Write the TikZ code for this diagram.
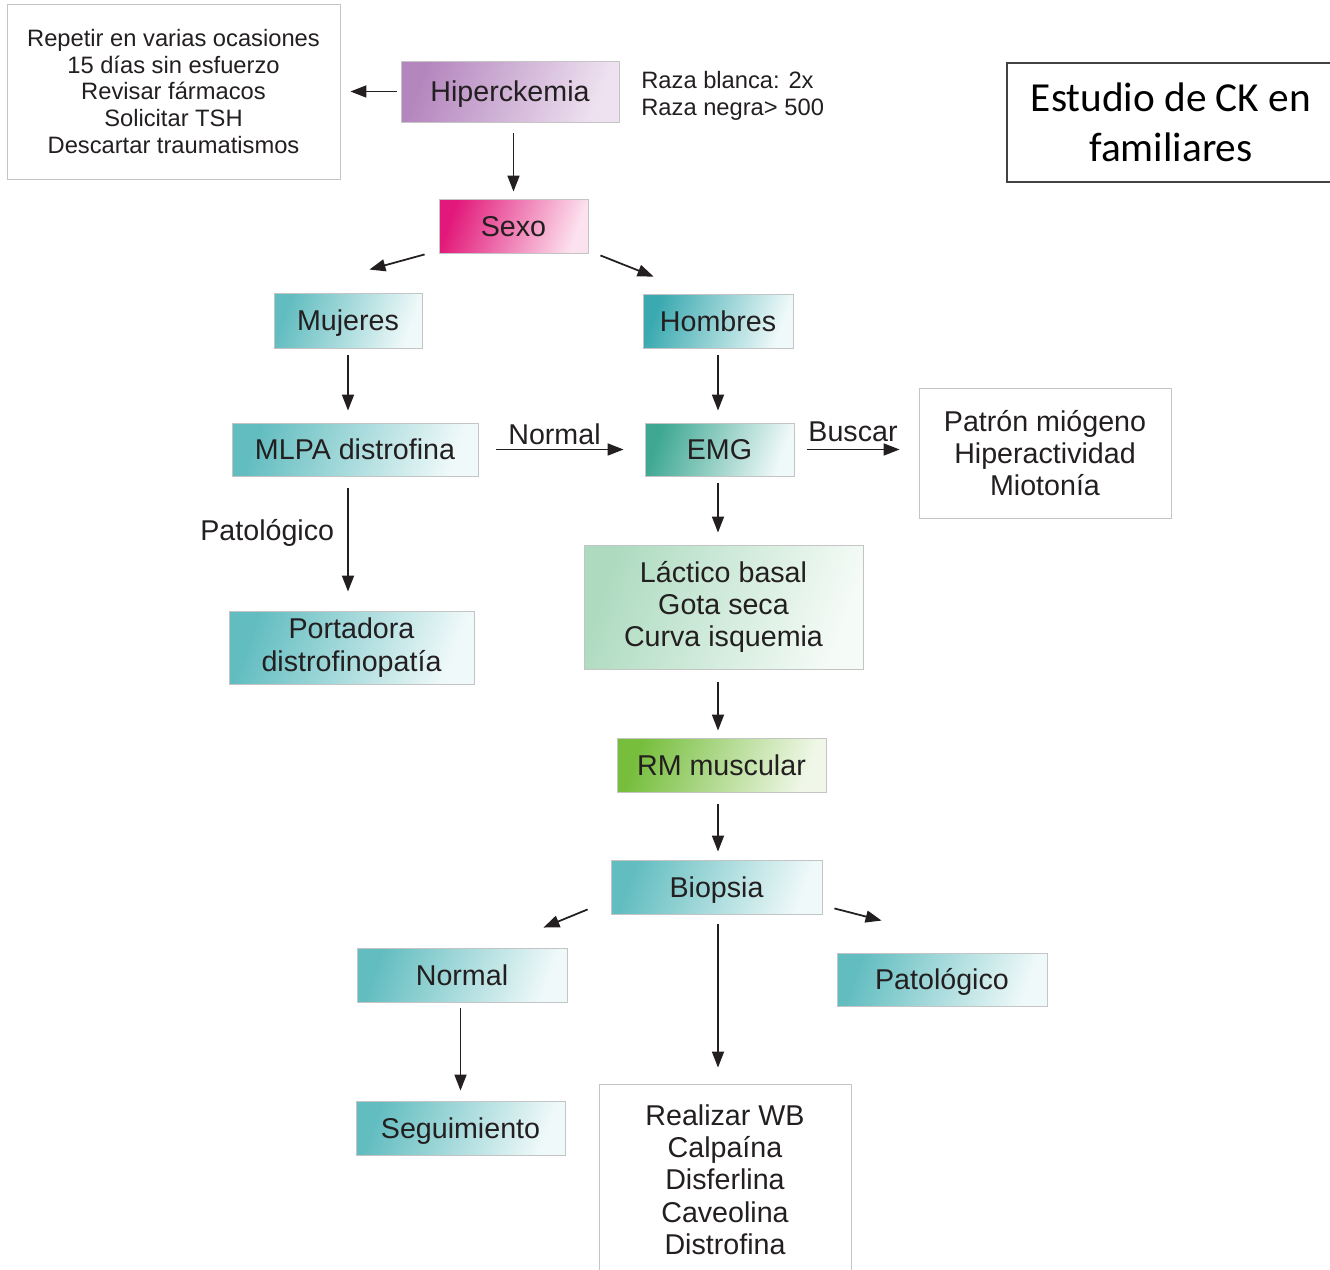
\documentclass[tikz,border=0pt]{standalone}
\usepackage{fontspec}
\setmainfont{Liberation Sans}
\newfontfamily\calibri{Carlito}
\usetikzlibrary{positioning}
\usetikzlibrary{arrows.meta}

\definecolor{ink}{HTML}{231F20}
\definecolor{edgegray}{HTML}{C4C4C4}
\definecolor{purpleA}{HTML}{B486BE}
\definecolor{purpleB}{HTML}{EEE2F0}
\definecolor{pinkA}{HTML}{E2197A}
\definecolor{pinkB}{HTML}{FCE2EE}
\definecolor{tealA}{HTML}{62BDC0}
\definecolor{tealB}{HTML}{F0F9F9}
\definecolor{homA}{HTML}{3AAAB0}
\definecolor{emgA}{HTML}{3FA893}
\definecolor{lactA}{HTML}{AEDBC0}
\definecolor{lactB}{HTML}{F5FBF7}
\definecolor{rmA}{HTML}{76BE3C}
\definecolor{rmB}{HTML}{F0F7E8}

\tikzset{
  grad/.style 2 args={draw=edgegray,line width=0.5pt,left color=#1,right color=#2,shading angle=70},
  big/.style={font=\fontsize{16.3}{18.4}\selectfont,text=ink,align=center,inner sep=0pt},
  small/.style={font=\fontsize{13.5}{15.3}\selectfont,text=ink,align=center,inner sep=0pt},
  oneline/.style={text height=11.7pt,text depth=0pt},
  plainbox/.style={draw=edgegray,line width=0.5pt,fill=white},
  arr/.style={-{Triangle[length=0.32cm,width=0.24cm]},line width=1pt,draw=ink}
}

\begin{document}
\begin{tikzpicture}[x=0.02cm,y=-0.02cm]
  \useasboundingbox (0,0) rectangle (1330,1270);
  \node[small,plainbox,minimum width=6.66cm,minimum height=3.5cm](repe) at (173.5,91.5)
    {Repetir en varias ocasiones\\15 días sin esfuerzo\\Revisar fármacos\\Solicitar TSH\\Descartar traumatismos};
  \node[big,oneline,grad={purpleA}{purpleB},minimum width=4.36cm,minimum height=1.22cm](hiper) at (510,91.5) {Hiperckemia};
  \node[small,align=left,anchor=west](raza) at (641,96) {Raza blanca: 2x\\Raza negra> 500};
  \node[draw=ink!85,line width=0.8pt,minimum width=6.56cm,minimum height=2.38cm,align=center,inner sep=0pt,
    font=\calibri\fontsize{23.5}{28.3}\selectfont,text=black](titulo) at (1171,122.5) {Estudio de CK en\\familiares};
  \node[big,oneline,grad={pinkA}{pinkB},minimum width=2.98cm,minimum height=1.08cm](sexo) at (513.5,226) {Sexo};
  \node[big,oneline,grad={tealA}{tealB},minimum width=2.96cm,minimum height=1.1cm](muj) at (348,320.5) {Mujeres};
  \node[big,oneline,grad={homA}{tealB},minimum width=3cm,minimum height=1.08cm](hom) at (718,321) {Hombres};
  \node[big,oneline,grad={tealA}{tealB},minimum width=4.92cm,minimum height=1.06cm](mlpa) at (355,449.5) {MLPA distrofina};
  \node[big,oneline,grad={emgA}{tealB},minimum width=2.98cm,minimum height=1.06cm](emg) at (719.5,449.5) {EMG};
  \node[big,plainbox,minimum width=5.04cm,minimum height=2.6cm](patron) at (1045,453)
    {Patrón miógeno\\Hiperactividad\\Miotonía};
  \node[big,grad={tealA}{tealB},minimum width=4.9cm,minimum height=1.46cm](port) at (351.5,647.5)
    {Portadora\\distrofinopatía};
  \node[big,grad={lactA}{lactB},minimum width=5.58cm,minimum height=2.48cm](lact) at (723.5,607)
    {Láctico basal\\Gota seca\\Curva isquemia};
  \node[big,oneline,grad={rmA}{rmB},minimum width=4.18cm,minimum height=1.08cm](rm) at (721.5,765) {RM muscular};
  \node[big,oneline,grad={tealA}{tealB},minimum width=4.22cm,minimum height=1.08cm](bio) at (716.5,887) {Biopsia};
  \node[big,oneline,grad={tealA}{tealB},minimum width=4.2cm,minimum height=1.08cm](norm) at (462,975) {Normal};
  \node[big,oneline,grad={tealA}{tealB},minimum width=4.2cm,minimum height=1.06cm](pato) at (942,979.5) {Patológico};
  \node[big,oneline,grad={tealA}{tealB},minimum width=4.18cm,minimum height=1.08cm](segui) at (460.5,1128) {Seguimiento};
  \node[big,plainbox,minimum width=5.04cm,minimum height=3.82cm](wb) at (725,1179.5)
    {Realizar WB\\Calpaína\\Disferlina\\Caveolina\\Distrofina};
  \draw[arr,shorten <=0.08cm,shorten >=0.2cm] (hiper.west) -- (repe.east);
  \draw[arr,shorten <=0.22cm,shorten >=0.14cm] (sexo |- hiper.south) -- (sexo.north);
  \draw[arr] ([shift={(-14,1)}]sexo.south west) -- ([shift={(-53,-23)}]muj.north east);
  \draw[arr] ([shift={(12,2)}]sexo.south east) -- ([shift={(11,-17)}]hom.north west);
  \draw[arr,shorten <=0.14cm,shorten >=0.24cm] (muj.south) -- (muj |- mlpa.north);
  \draw[arr,shorten <=0.14cm,shorten >=0.24cm] (hom.south) -- (hom |- emg.north);
  \draw[arr,shorten <=0.36cm,shorten >=0.42cm] (mlpa.east) -- node[big,above=2pt,xshift=-0.14cm]{Normal} (emg.west);
  \draw[arr,shorten <=0.26cm,shorten >=0.38cm] (emg.east) -- node[big,above=4pt,xshift=-0.07cm]{Buscar} (emg.east -| patron.west);
  \draw[arr,shorten <=0.24cm,shorten >=0.38cm] (muj |- mlpa.south) -- node[big,left=0.26cm,pos=0.42]{Patológico} (muj |- port.north);
  \draw[arr,shorten <=0.14cm,shorten >=0.24cm] (hom |- emg.south) -- (hom |- lact.north);
  \draw[arr,shorten <=0.26cm,shorten >=0.14cm] (hom |- lact.south) -- (hom |- rm.north);
  \draw[arr,shorten <=0.24cm,shorten >=0.16cm] (hom |- rm.south) -- (hom |- bio.north);
  \draw[arr] ([shift={(-23,-5)}]bio.south west) -- ([shift={(-24,-20)}]norm.north east);
  \draw[arr] ([shift={(12,-6)}]bio.south east) -- ([shift={(45,-32)}]pato.north west);
  \draw[arr,shorten <=0.2cm,shorten >=0.32cm] (hom |- bio.south) -- (hom |- wb.north);
  \draw[arr,shorten <=0.12cm,shorten >=0.2cm] (segui |- norm.south) -- (segui.north);
\end{tikzpicture}
\end{document}
